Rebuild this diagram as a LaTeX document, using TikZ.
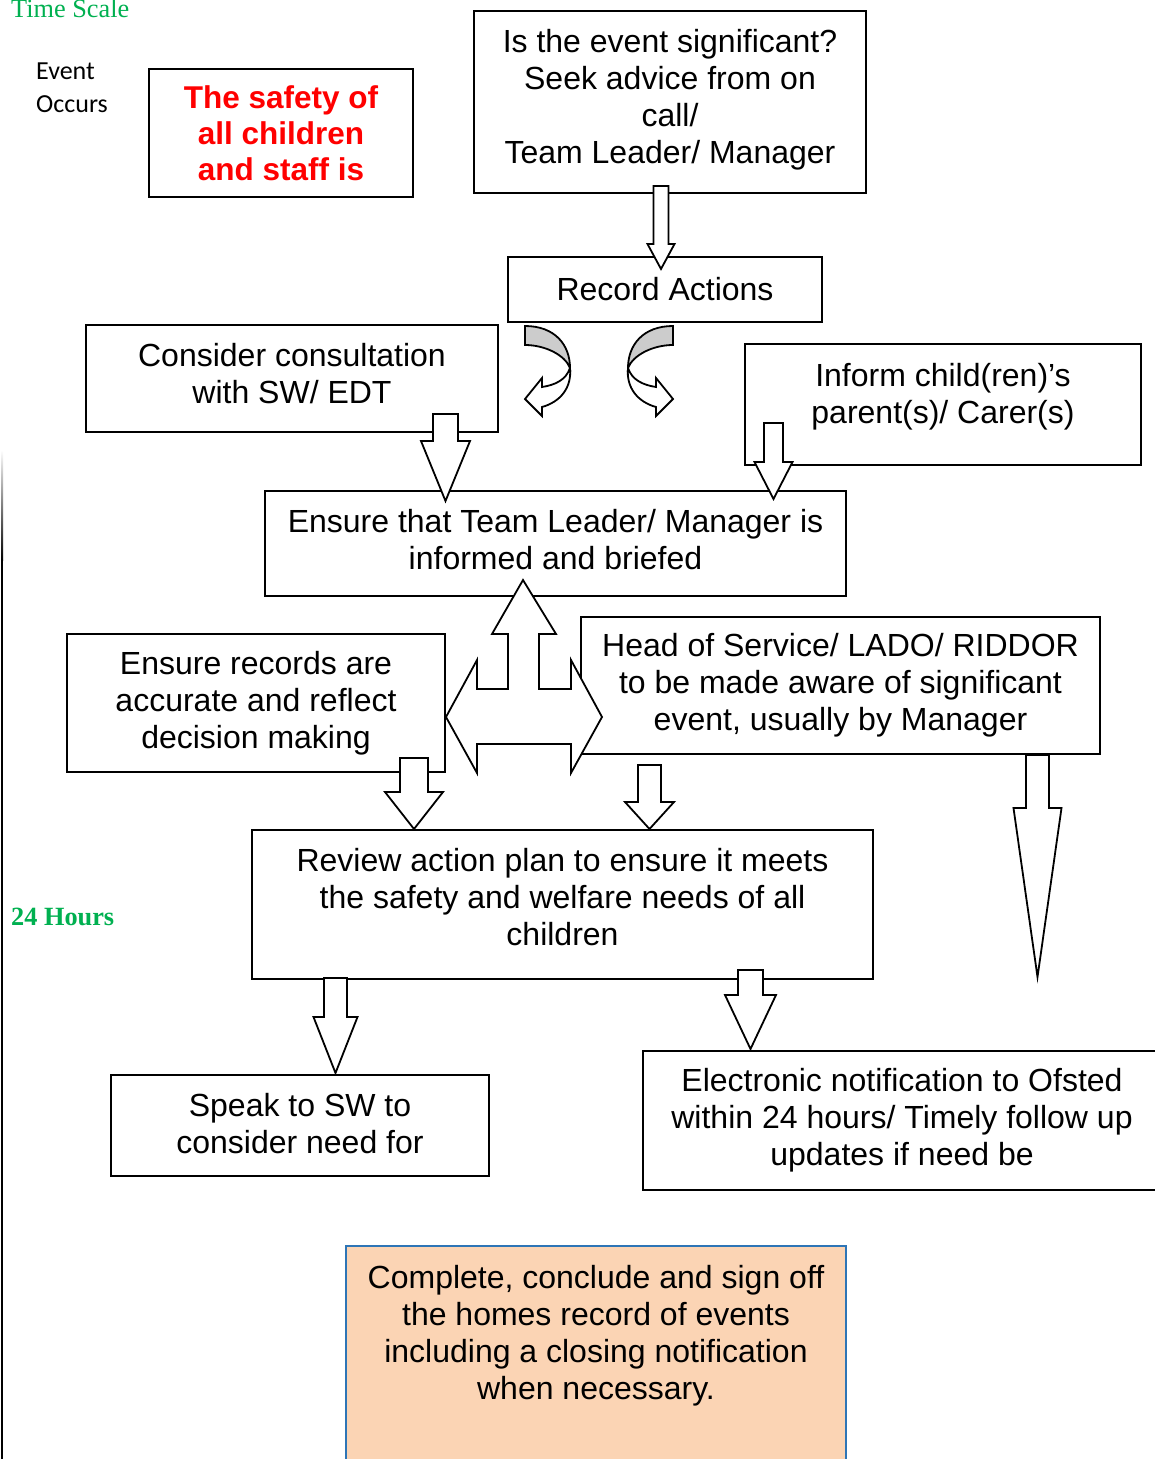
\documentclass[tikz,border=0pt]{standalone}
\usepackage{fontspec}
\setmainfont{Liberation Sans}
\newfontfamily\timesfont{Liberation Serif}
\newfontfamily\calibrifont{Carlito}
\usetikzlibrary{calc}
\definecolor{scalegreen}{RGB}{0,176,80}
\definecolor{peach}{RGB}{251,212,180}
\definecolor{edgeblue}{RGB}{46,117,182}
\definecolor{curlgray}{RGB}{204,204,204}
% x, from, from offset, to, to offset, shaft half width, head half width, head length
\newcommand\DownArrow[8]{%
    \draw[blockarrow] let \p1 = (#2), \p2 = (#4),
        \n1 = {\y1-(#3pt)}, \n2 = {\y2-(#5pt)} in
        ({(#1-#6)*1pt},\n1) -- ({(#1+#6)*1pt},\n1) -- ({(#1+#6)*1pt},\n2+#8pt)
        -- ({(#1+#7)*1pt},\n2+#8pt) -- ({#1*1pt},\n2) -- ({(#1-#7)*1pt},\n2+#8pt)
        -- ({(#1-#6)*1pt},\n2+#8pt) -- cycle;
}
\newcommand\CurlArrow{%
    \filldraw[fill=curlgray, curl] (0,0) .. controls (30,0) and (45,19) .. (45,42)
        .. controls (40,29) and (20,19) .. (0,19) -- cycle;
    \filldraw[fill=white, curl] (45,42) .. controls (41,54) and (30,59) .. (17,61)
        -- (17,52) -- (0,73) -- (17,90) -- (17,81) .. controls (35,76) and (47,62) .. (45,42) -- cycle;
}
\tikzset{
    box/.style={draw, line width=2, align=center, font=\fontsize{32}{37}\selectfont},
    finalbox/.style={box, draw=edgeblue, fill=peach, line width=1.5},
    blockarrow/.style={draw, fill=white, line width=1.8, line join=miter},
    curl/.style={draw=black, line width=1.8},
}
\begin{document}
\begin{tikzpicture}[x=1pt, y=-1pt]
    \useasboundingbox (0,0) rectangle (1155,1459);
    % time scale
    \node[anchor=base west, inner sep=0, text=scalegreen, font=\timesfont\fontsize{26.3}{30}\selectfont] (timescale) at (11,17) {Time Scale};
    \node[anchor=base west, inner sep=0, text=scalegreen, font=\timesfont\bfseries\fontsize{26.3}{30}\selectfont] (day) at (11,925) {24 Hours};
    \node[anchor=west, align=left, inner sep=0, font=\calibrifont\fontsize{26}{33}\selectfont] (occurs) at (36,88) {Event\\Occurs};
    \shade[top color=white, bottom color=black] (1,450) rectangle (3,560);
    \fill (1,560) rectangle (3,1459);
    % boxes
    \node[box, minimum width=392, minimum height=182, text depth=12] (ask) at (670,102) {Is the event significant?\\Seek advice from on\\call/\\Team Leader/ Manager};
    \node[box, minimum width=264, minimum height=128, text=red, font=\bfseries\fontsize{31.5}{36}\selectfont] (safety) at (281,133) {The safety of\\all children\\and staff is};
    \node[box, minimum width=314, minimum height=65] (rec) at (665,289.5) {Record Actions};
    \node[box, minimum width=412, minimum height=107, text depth=10] (consult) at (292,378.5) {Consider consultation\\with SW/ EDT};
    \node[box, minimum width=396, minimum height=121, text depth=23] (inform) at (943,404.5) {Inform child(ren)’s\\parent(s)/ Carer(s)};
    \node[box, minimum width=581, minimum height=105, text depth=8] (ensure) at (555.5,543.5) {Ensure that Team Leader/ Manager is\\informed and briefed};
    \node[box, minimum width=378, minimum height=138] (records) at (256,703) {Ensure records are\\accurate and reflect\\decision making};
    \node[box, minimum width=519, minimum height=137] (head) at (840.5,685.5) {Head of Service/ LADO/ RIDDOR\\to be made aware of significant\\event, usually by Manager};
    \node[box, minimum width=621, minimum height=149, text depth=15] (review) at (562.5,904.5) {Review action plan to ensure it meets\\the safety and welfare needs of all\\children};
    \node[box, minimum width=378, minimum height=101, text depth=4] (speak) at (300,1125.5) {Speak to SW to\\consider need for};
    \node[box, minimum width=518, minimum height=139] (notify) at (902,1120.5) {Electronic notification to Ofsted\\within 24 hours/ Timely follow up\\updates if need be};
    \node[finalbox, minimum width=500, minimum height=228, text depth=56] (close) at (596,1360) {Complete, conclude and sign off\\the homes record of events\\including a closing notification\\when necessary.};
    \coordinate (riddorend) at (1037.5,977);
    % arrows
    \DownArrow{661}{ask.south}{-8}{rec.north}{13}{7.5}{13.5}{25}
    \begin{scope}[shift={(525,326)}]
        \CurlArrow
    \end{scope}
    \begin{scope}[shift={(673,326)}, xscale=-1]
        \CurlArrow
    \end{scope}
    \DownArrow{445.5}{consult.south}{-19}{ensure.north}{11}{12.5}{24.5}{60}
    \DownArrow{773.5}{inform.south}{-43}{ensure.north}{9}{9.5}{19}{37}
    \draw[blockarrow] (523,580) -- (556,634) -- (539,634) -- (539,689) -- (571,689) -- (571,660)
        -- (602,717) -- (571,773) -- (571,744) -- (477,744) -- (477,773) -- (446,717)
        -- (477,660) -- (477,689) -- (508,689) -- (508,634) -- (492,634) -- cycle;
    \DownArrow{414}{records.south}{-15}{review.north}{0}{14}{29}{37}
    \DownArrow{649.5}{head.south}{10}{review.north}{0}{11.5}{24.5}{27}
    \DownArrow{1037.5}{head.south}{0}{riddorend}{0}{11.5}{24}{169}
    \DownArrow{335.5}{review.south}{-2}{speak.north}{-1}{11.5}{22}{56}
    \DownArrow{750.5}{review.south}{-10}{notify.north}{-1}{12.5}{25.5}{54}
\end{tikzpicture}
\end{document}
